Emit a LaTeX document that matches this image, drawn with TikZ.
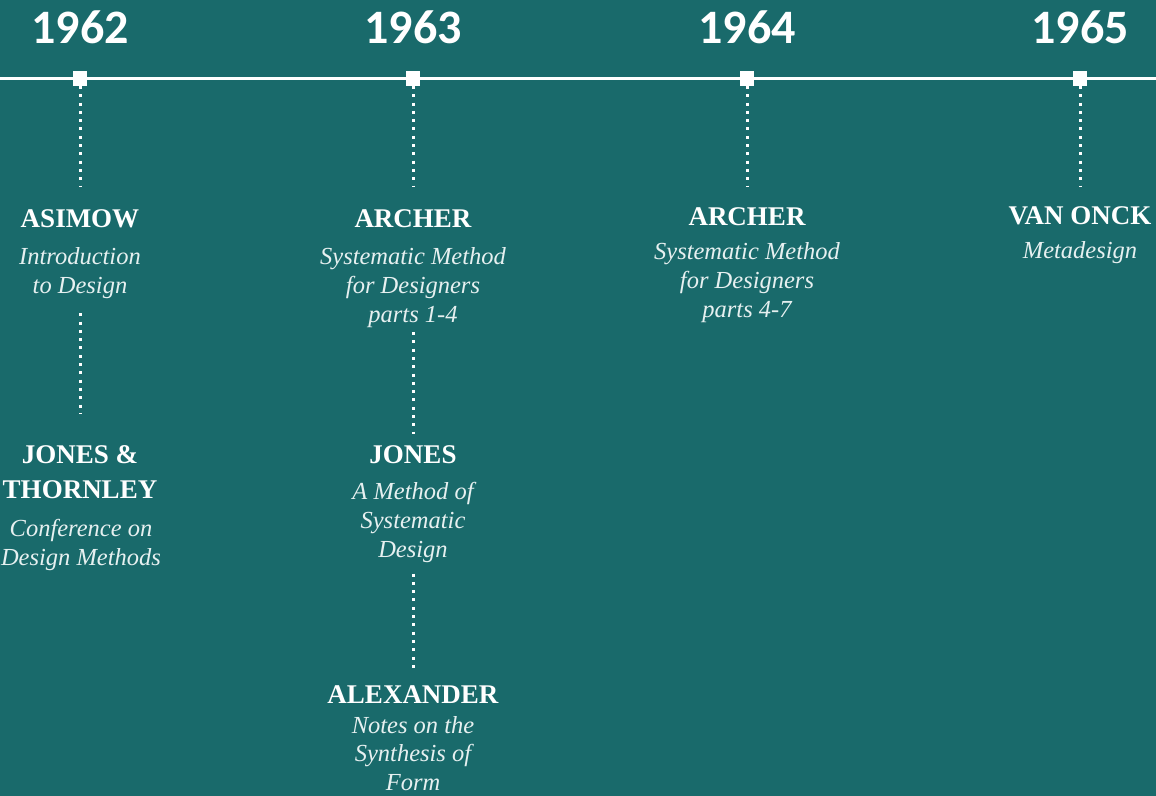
\documentclass[tikz,border=0pt]{standalone}
\usepackage{fontspec}
\setmainfont{Liberation Serif}
\newfontfamily\yearfont{Carlito}
\definecolor{tealbg}{RGB}{25,106,107}
\definecolor{paletext}{RGB}{230,240,240}
\newcommand{\stackrows}[1]{\begin{tabular}[t]{@{}c@{}}#1\end{tabular}}
\tikzset{
  yearlabel/.style={font=\yearfont\bfseries\fontsize{48}{48}\selectfont, text=white, anchor=base, inner sep=0pt},
  marker/.style={fill=white, minimum size=14.5pt, inner sep=0pt},
  author/.style={font=\bfseries\fontsize{27}{35}\selectfont, text=white, anchor=base, inner sep=0pt},
  work/.style={font=\itshape\fontsize{24.5}{29.3}\selectfont, text=paletext, anchor=base, inner sep=0pt},
  dotline/.style={white, line width=3pt, dash pattern=on 3pt off 5.3pt},
}
\begin{document}
\begin{tikzpicture}[x=1pt, y=-1pt]
  % background
  \useasboundingbox (0,0) rectangle (1156,795);
  \fill[tealbg] (-3,-3) rectangle (1159,798);
  % axis
  \draw[white, line width=2.5pt] (-3,78.5) -- (1159,78.5);

  % years and markers
  \foreach \yr/\xx in {1962/80, 1963/413, 1964/747, 1965/1080} {
    \node[yearlabel] (y\yr) at (\xx,43) {\yr};
    \node[marker] (m\yr) at (\xx,78.5) {};
  }

  % 1962
  \node[author] (asimow) at (80,227) {\stackrows{ASIMOW}};
  \node[work] (intro) at (80,264) {\stackrows{Introduction\\to Design}};
  \node[author] (jonesthornley) at (80,463) {\stackrows{JONES \&\\THORNLEY}};
  \node[work] (conference) at (81,536) {\stackrows{Conference on\\Design Methods}};

  % 1963
  \node[author] (archerA) at (413,227) {\stackrows{ARCHER}};
  \node[work] (sysA) at (413,264) {\stackrows{Systematic Method\\for Designers\\parts 1-4}};
  \node[author] (jones) at (413,463) {\stackrows{JONES}};
  \node[work] (method) at (413,499) {\stackrows{A Method of\\Systematic\\Design}};
  \node[author] (alexander) at (413,703) {\stackrows{ALEXANDER}};
  \node[work, font=\itshape\fontsize{24.5}{28.5}\selectfont] (notes) at (413,733) {\stackrows{Notes on the\\Synthesis of\\Form}};

  % 1964
  \node[author] (archerB) at (747,225) {\stackrows{ARCHER}};
  \node[work] (sysB) at (747,259) {\stackrows{Systematic Method\\for Designers\\parts 4-7}};

  % 1965
  \node[author] (vanonck) at (1080,224) {\stackrows{VAN ONCK}};
  \node[work] (metadesign) at (1080,258) {\stackrows{Metadesign}};

  % dotted connectors
  \draw[dotline, shorten >=15pt] (m1962) -- (asimow);
  \draw[dotline, shorten <=11pt, shorten >=24pt] (intro) -- (jonesthornley);
  \draw[dotline, shorten >=15pt] (m1963) -- (archerA);
  \draw[dotline, shorten <=0.5pt, shorten >=4pt] (sysA) -- (jones);
  \draw[dotline, shorten <=7pt, shorten >=8pt] (method) -- (alexander);
  \draw[dotline, shorten >=13pt] (m1964) -- (archerB);
  \draw[dotline, shorten >=12pt] (m1965) -- (vanonck);
\end{tikzpicture}
\end{document}
